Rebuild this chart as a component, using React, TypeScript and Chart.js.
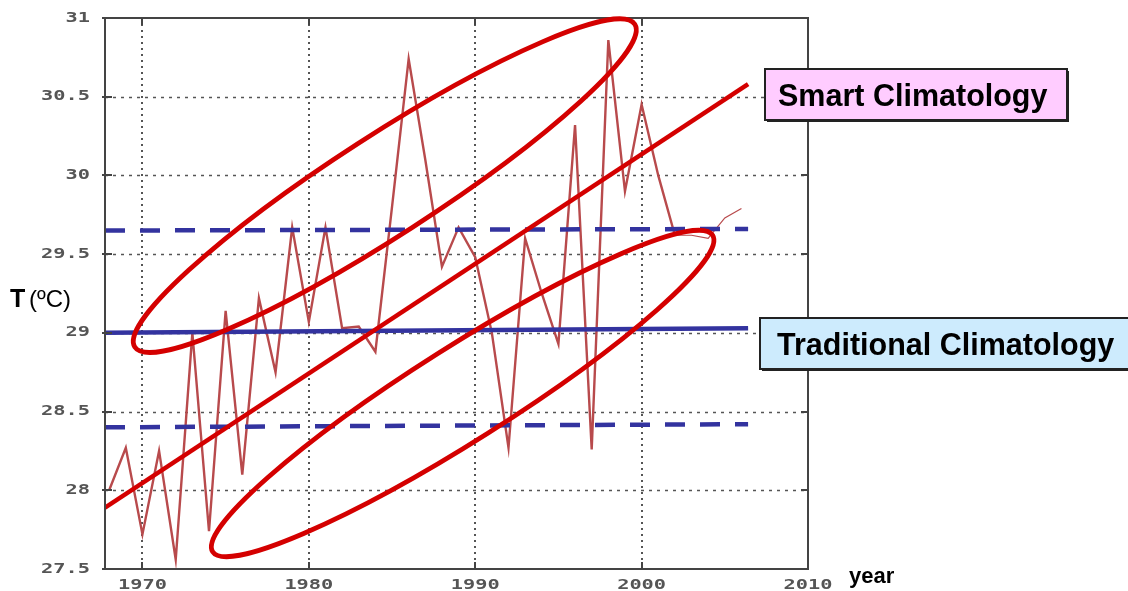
import React, { useEffect, useRef } from "react";
import { Chart, registerables } from "chart.js";

Chart.register(...registerables);

// ---- data ----
const years = [
  1968, 1969, 1970, 1971, 1972, 1973, 1974, 1975, 1976, 1977,
  1978, 1979, 1980, 1981, 1982, 1983, 1984, 1985, 1986, 1987,
  1988, 1989, 1990, 1991, 1992, 1993, 1994, 1995, 1996, 1997,
  1998, 1999, 2000, 2001, 2002, 2003, 2004, 2005, 2006,
];
const temps = [
  28.0, 28.27, 27.72, 28.25, 27.56, 29.0, 27.74, 29.14, 28.1, 29.22,
  28.75, 29.67, 29.07, 29.67, 29.03, 29.04, 28.88, 29.8, 30.74, 30.1,
  29.42, 29.67, 29.48, 29.0, 28.27, 29.6, 29.25, 28.93, 30.32, 28.26,
  30.86, 29.9, 30.45, 30.0, 29.62, 29.62, 29.6, 29.73, 29.79,
];
const yTicks = [27.5, 28, 28.5, 29, 29.5, 30, 30.5, 31];
const yTickLabels = ["27.5", "28", "28.5", "29", "29.5", "30", "30.5", "31"];
const xTicks = [1970, 1980, 1990, 2000, 2010];
const xTickLabels = ["1970", "1980", "1990", "2000", "2010"];

const refYears = [1967.75, 2006.4];
const traditionalMean = [29.0, 29.03];
const upperBand = [29.65, 29.66];
const lowerBand = [28.4, 28.42];
const trendYears = [1967.75, 2006.4];
const trendValues = [27.89, 30.58];

// ellipses: two tips (year, temp) and minor/major ratio
const ellipseTipYears = [[1969.54, 1999.59], [1974.22, 2004.27]];
const ellipseTipTemps = [[28.91, 30.96], [27.61, 29.62]];
const ellipseRatios = [0.168, 0.159];

const smartText = "Smart Climatology";
const traditionalText = "Traditional Climatology";
const xTitle = "year";
const yTitleMain = "T";
const yTitleUnit = "(ºC)";

const BLUE = "#33339f";
const RED = "#d40000";

function stretchedText(ctx: CanvasRenderingContext2D, text: string, px: number, py: number, sx: number, align: CanvasTextAlign) {
  ctx.save();
  ctx.translate(px, py);
  ctx.scale(sx, 1);
  ctx.textAlign = align;
  ctx.fillText(text, 0, 0);
  ctx.restore();
}

const decor = {
  id: "decor",
  beforeDatasetsDraw(chart: any) {
    const { ctx, chartArea, scales } = chart;
    const { left, right, top, bottom } = chartArea;
    const x = scales.x, y = scales.y;
    ctx.save();
    // horizontal grid
    ctx.strokeStyle = "#555";
    ctx.lineWidth = 1.5;
    ctx.setLineDash([3, 5]);
    yTicks.forEach((v) => {
      if (v <= 27.5 || v >= 31) return;
      const py = Math.round(y.getPixelForValue(v)) + 0.5;
      ctx.beginPath();
      ctx.moveTo(left, py);
      ctx.lineTo(right, py);
      ctx.stroke();
    });
    // vertical grid
    ctx.lineWidth = 2;
    ctx.setLineDash([2, 4]);
    xTicks.forEach((v) => {
      if (v >= 2010) return;
      const px = Math.round(x.getPixelForValue(v));
      ctx.beginPath();
      ctx.moveTo(px, top);
      ctx.lineTo(px, bottom);
      ctx.stroke();
    });
    ctx.restore();
  },
  afterDatasetsDraw(chart: any) {
    const { ctx, chartArea, scales } = chart;
    const { left, right, top, bottom } = chartArea;
    const x = scales.x, y = scales.y;
    ctx.save();
    // frame
    ctx.setLineDash([]);
    ctx.strokeStyle = "#444";
    ctx.lineWidth = 2;
    ctx.strokeRect(left, top, right - left, bottom - top);
    // tick marks
    ctx.lineWidth = 2;
    xTicks.forEach((v) => {
      const px = Math.round(x.getPixelForValue(v));
      ctx.beginPath();
      ctx.moveTo(px, top); ctx.lineTo(px, top + 7);
      ctx.moveTo(px, bottom); ctx.lineTo(px, bottom - 7);
      ctx.stroke();
    });
    yTicks.forEach((v) => {
      const py = Math.round(y.getPixelForValue(v));
      ctx.beginPath();
      ctx.moveTo(left - 3, py); ctx.lineTo(left + 7, py);
      ctx.moveTo(right, py); ctx.lineTo(right - 7, py);
      ctx.stroke();
    });
    // ellipses
    ctx.strokeStyle = RED;
    ctx.lineWidth = 4.8;
    ellipseTipYears.forEach((ys, i) => {
      const x1 = x.getPixelForValue(ys[0]);
      const x2 = x.getPixelForValue(ys[1]);
      const y1 = y.getPixelForValue(ellipseTipTemps[i][0]);
      const y2 = y.getPixelForValue(ellipseTipTemps[i][1]);
      const cx = (x1 + x2) / 2, cy = (y1 + y2) / 2;
      const a = Math.hypot(x2 - x1, y2 - y1) / 2;
      const b = a * ellipseRatios[i];
      const ang = Math.atan2(y2 - y1, x2 - x1);
      ctx.beginPath();
      ctx.ellipse(cx, cy, a, b, ang, 0, Math.PI * 2);
      ctx.stroke();
    });
    ctx.restore();
  },
  afterDraw(chart: any) {
    const { ctx, scales } = chart;
    const x = scales.x, y = scales.y;
    ctx.save();
    // tick labels
    ctx.fillStyle = "#555";
    ctx.font = "bold 14px 'DejaVu Sans Mono'";
    ctx.textBaseline = "middle";
    yTicks.forEach((v, i) => {
      stretchedText(ctx, yTickLabels[i], 90, y.getPixelForValue(v), 1.45, "right");
    });
    xTicks.forEach((v, i) => {
      stretchedText(ctx, xTickLabels[i], x.getPixelForValue(v), 585, 1.45, "center");
    });
    // axis titles
    ctx.fillStyle = "#000";
    ctx.textBaseline = "alphabetic";
    ctx.textAlign = "left";
    ctx.font = "bold 22px 'Liberation Sans', Arial, sans-serif";
    ctx.fillText(xTitle, 849, 583);
    ctx.font = "bold 25px 'Liberation Sans', Arial, sans-serif";
    ctx.fillText(yTitleMain, 10, 307);
    ctx.font = "24px 'Liberation Sans', Arial, sans-serif";
    ctx.fillText(yTitleUnit, 29, 307);

    // label boxes
    const drawBox = (bx: number, by: number, bw: number, bh: number, fill: string, text: string, tx: number, ty: number) => {
      ctx.fillStyle = "#222";
      ctx.fillRect(bx + 2, by + 2, bw, bh);
      ctx.fillStyle = fill;
      ctx.fillRect(bx, by, bw, bh);
      ctx.strokeStyle = "#222";
      ctx.lineWidth = 2;
      ctx.strokeRect(bx, by, bw, bh);
      ctx.fillStyle = "#000";
      ctx.font = "bold 30.5px 'Liberation Sans', Arial, sans-serif";
      ctx.textAlign = "left";
      ctx.fillText(text, tx, ty);
    };
    drawBox(765, 69, 302, 51, "#ffccff", smartText, 778, 106);
    drawBox(760, 318, 380, 51, "#cdebfd", traditionalText, 777, 355);
    ctx.restore();
  },
};

export default function App() {
  const ref = useRef<HTMLCanvasElement | null>(null);
  useEffect(() => {
    document.body.style.margin = "0";
    const canvas = ref.current!;
    const obs = years.map((yr, i) => ({ x: yr, y: temps[i] }));
    const pair = (vals: number[], xs: number[]) => xs.map((xv, i) => ({ x: xv, y: vals[i] }));
    const chart = new Chart(canvas, {
      type: "line",
      data: {
        datasets: [
          { label: "trend", data: pair(trendValues, trendYears), borderColor: RED, borderWidth: 4.5, pointRadius: 0 },
          { label: "mean", data: pair(traditionalMean, refYears), borderColor: BLUE, borderWidth: 4.5, pointRadius: 0 },
          { label: "upper", data: pair(upperBand, refYears), borderColor: BLUE, borderWidth: 4.5, borderDash: [20, 15], pointRadius: 0 },
          { label: "lower", data: pair(lowerBand, refYears), borderColor: BLUE, borderWidth: 4.5, borderDash: [20, 15], pointRadius: 0 },
          {
            label: "T",
            data: obs,
            borderColor: "#b84a4c",
            borderWidth: 2.4,
            pointRadius: 0,
            tension: 0,
            segment: { borderWidth: (c: any) => (c.p0.parsed.x >= 2002 ? 1.2 : 2.4) },
          },
        ],
      },
      options: {
        animation: false,
        responsive: false,
        devicePixelRatio: 1,
        layout: { padding: { left: 105, top: 18, right: 320, bottom: 22 } },
        scales: {
          x: { type: "linear", min: 1967.75, max: 2010, display: false },
          y: { type: "linear", min: 27.5, max: 31, display: false },
        },
        plugins: { legend: { display: false }, tooltip: { enabled: false } },
      },
      plugins: [decor],
    } as any);
    return () => chart.destroy();
  }, []);
  return (
    <div style={{ position: "absolute", left: 0, top: 0, width: 1128, height: 591, background: "#fff" }}>
      <canvas ref={ref} width={1128} height={591} style={{ width: 1128, height: 591 }} />
    </div>
  );
}
